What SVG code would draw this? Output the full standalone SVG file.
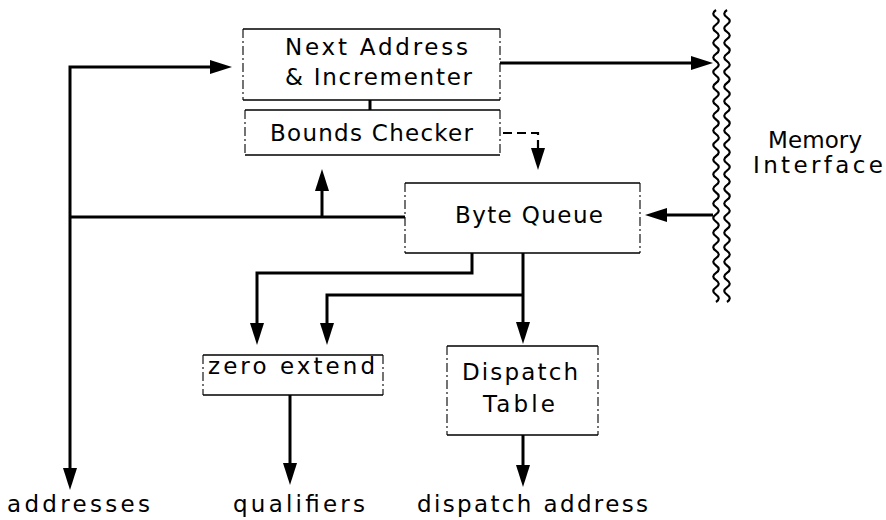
<svg xmlns="http://www.w3.org/2000/svg" width="886" height="520" viewBox="0 0 886 520">
  <style>
    .bg { fill: #ffffff; }
    .edge { stroke: #000; stroke-width: 1.3; fill: none; }
    .side { stroke: #000; stroke-width: 1.1; fill: none; stroke-dasharray: 9 3 2 3; }
    .lbl { font-family: "DejaVu Sans", "Liberation Sans", sans-serif; font-size: 23px; fill: #000; }
    .wire { stroke: #000; stroke-width: 3; fill: none; stroke-linejoin: miter; }
    .dash { stroke: #000; stroke-width: 2.2; fill: none; stroke-dasharray: 9 5; }
    .wave { stroke: #000; stroke-width: 2.2; fill: none; }
  </style>
  <defs>
    <marker id="head" markerUnits="userSpaceOnUse" markerWidth="24" markerHeight="16" refX="10" refY="7" orient="auto">
      <path d="M0,0 L22,7 L0,14 z" fill="#000"/>
    </marker>
  </defs>
  <rect class="bg" x="0" y="0" width="886" height="520"/>

  <!-- memory interface boundary: double wavy line -->
  <g id="memory">
    <path class="wave" d="M716,10 q-5.5,3.65 0,7.3 t0,7.3 t0,7.3 t0,7.3 t0,7.3 t0,7.3 t0,7.3 t0,7.3 t0,7.3 t0,7.3 t0,7.3 t0,7.3 t0,7.3 t0,7.3 t0,7.3 t0,7.3 t0,7.3 t0,7.3 t0,7.3 t0,7.3 t0,7.3 t0,7.3 t0,7.3 t0,7.3 t0,7.3 t0,7.3 t0,7.3 t0,7.3 t0,7.3 t0,7.3 t0,7.3 t0,7.3 t0,7.3 t0,7.3 t0,7.3 t0,7.3 t0,7.3 t0,7.3 t0,7.3 t0,7.3"/>
    <path class="wave" d="M727,10 q-5.5,3.65 0,7.3 t0,7.3 t0,7.3 t0,7.3 t0,7.3 t0,7.3 t0,7.3 t0,7.3 t0,7.3 t0,7.3 t0,7.3 t0,7.3 t0,7.3 t0,7.3 t0,7.3 t0,7.3 t0,7.3 t0,7.3 t0,7.3 t0,7.3 t0,7.3 t0,7.3 t0,7.3 t0,7.3 t0,7.3 t0,7.3 t0,7.3 t0,7.3 t0,7.3 t0,7.3 t0,7.3 t0,7.3 t0,7.3 t0,7.3 t0,7.3 t0,7.3 t0,7.3 t0,7.3 t0,7.3 t0,7.3"/>
    <text class="lbl" x="768" y="148" textLength="94" lengthAdjust="spacing">Memory</text>
    <text class="lbl" x="753" y="173" textLength="130" lengthAdjust="spacing">Interface</text>
  </g>

  <g id="next-address">
    <path class="edge" d="M243,29 H500 M243,100 H500"/>
    <path class="side" d="M243,29 V100 M500,29 V100"/>
    <text class="lbl" x="285" y="55" textLength="183" lengthAdjust="spacing">Next Address</text>
    <text class="lbl" x="285" y="85" textLength="187" lengthAdjust="spacing">&amp; Incrementer</text>
  </g>

  <g id="bounds-checker">
    <path class="edge" d="M245,110 H500 M245,155 H500"/>
    <path class="side" d="M245,110 V155 M500,110 V155"/>
    <text class="lbl" x="270" y="141" textLength="203" lengthAdjust="spacing">Bounds Checker</text>
  </g>

  <g id="byte-queue">
    <path class="edge" d="M405,183 H640 M405,253 H640"/>
    <path class="side" d="M405,183 V253 M640,183 V253"/>
    <text class="lbl" x="455" y="223" textLength="148" lengthAdjust="spacing">Byte Queue</text>
  </g>

  <g id="zero-extend">
    <path class="edge" d="M203,355 H383 M203,395 H383"/>
    <path class="side" d="M203,355 V395 M383,355 V395"/>
    <text class="lbl" x="208" y="374" textLength="167" lengthAdjust="spacing">zero extend</text>
  </g>

  <g id="dispatch-table">
    <path class="edge" d="M447,346 H598 M447,435 H598"/>
    <path class="side" d="M447,346 V435 M598,346 V435"/>
    <text class="lbl" x="462" y="380" textLength="116" lengthAdjust="spacing">Dispatch</text>
    <text class="lbl" x="483" y="412" textLength="72" lengthAdjust="spacing">Table</text>
  </g>

  <g id="outputs">
    <text class="lbl" x="7" y="512" textLength="143" lengthAdjust="spacing">addresses</text>
    <text class="lbl" x="233" y="512" textLength="132" lengthAdjust="spacing">qualifiers</text>
    <text class="lbl" x="417" y="512" textLength="231" lengthAdjust="spacing">dispatch address</text>
  </g>

  <g id="connectors">
    <!-- incrementer to bounds checker tie -->
    <path class="wire" d="M370,100 V110"/>
    <!-- address loop: byte queue feeds back to the address unit and out -->
    <path class="wire" d="M405,217 H70"/>
    <path class="wire" d="M70,217 V67 H220" marker-end="url(#head)"/>
    <path class="wire" d="M70,217 V478" marker-end="url(#head)"/>
    <path class="wire" d="M322,217 V181" marker-end="url(#head)"/>
    <!-- address to memory, data back -->
    <path class="wire" d="M500,63 H701" marker-end="url(#head)"/>
    <path class="wire" d="M713,215 H657" marker-end="url(#head)"/>
    <!-- bounds checker control to byte queue -->
    <path class="dash" d="M503,133 H538 V150"/>
    <path class="wire" d="M538,150 V158" marker-end="url(#head)"/>
    <!-- byte queue outputs -->
    <path class="wire" d="M472,253 V273 H257 V333" marker-end="url(#head)"/>
    <path class="wire" d="M523,253 V332" marker-end="url(#head)"/>
    <path class="wire" d="M523,295 H327 V333" marker-end="url(#head)"/>
    <!-- results -->
    <path class="wire" d="M290,395 V473" marker-end="url(#head)"/>
    <path class="wire" d="M523,435 V475" marker-end="url(#head)"/>
  </g>
</svg>
